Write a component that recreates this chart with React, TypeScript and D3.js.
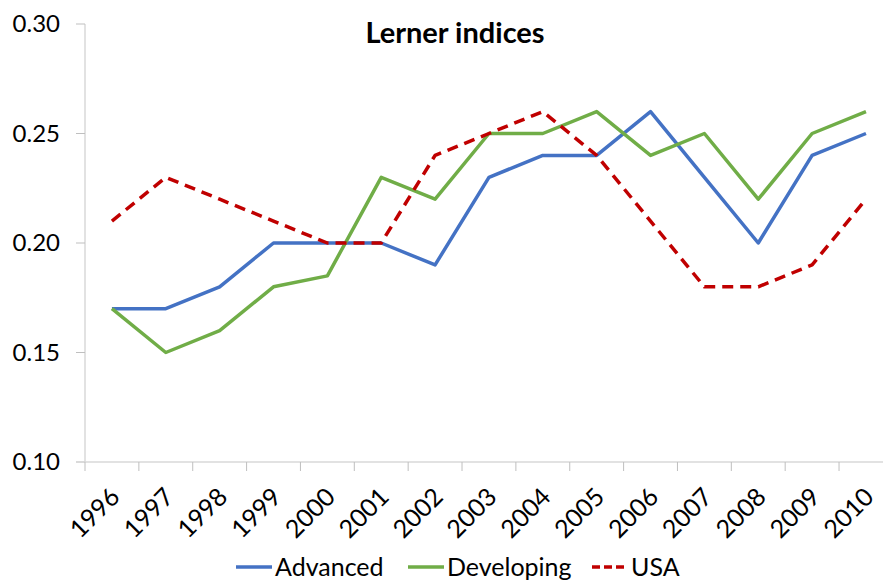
import React, { useEffect, useRef } from "react";
import * as d3 from "d3";

const years = ["1996","1997","1998","1999","2000","2001","2002","2003","2004","2005","2006","2007","2008","2009","2010"];
const advanced = [0.17,0.17,0.18,0.20,0.20,0.20,0.19,0.23,0.24,0.24,0.26,0.23,0.20,0.24,0.25];
const developing = [0.17,0.15,0.16,0.18,0.185,0.23,0.22,0.25,0.25,0.26,0.24,0.25,0.22,0.25,0.26];
const usa = [0.21,0.23,0.22,0.21,0.20,0.20,0.24,0.25,0.26,0.24,0.21,0.18,0.18,0.19,0.22];
const yTicks = [0.10,0.15,0.20,0.25,0.30];
const seriesNames = ["Advanced","Developing","USA"];

const W = 883, H = 582;
const FONT = "Lato, 'Open Sans', sans-serif";

export default function App() {
  const ref = useRef<SVGSVGElement>(null);
  useEffect(() => {
    const svg = d3.select(ref.current);
    svg.selectAll("*").remove();
    const left = 85, top = 24, bottom = 462;
    const band = 53.86;
    const x = d3.scaleBand<string>().domain(years).range([left, left + band * years.length]);
    const y = d3.scaleLinear().domain([0.10, 0.30]).range([bottom, top]);
    const cx = (d: string) => (x(d) as number) + x.bandwidth() / 2;

    // y axis line
    svg.append("line").attr("x1", left).attr("x2", left).attr("y1", top).attr("y2", bottom)
      .attr("stroke", "#d9d9d9").attr("stroke-width", 1.5);
    yTicks.forEach(t => {
      svg.append("line").attr("x1", left - 9).attr("x2", left).attr("y1", y(t)).attr("y2", y(t))
        .attr("stroke", "#bfbfbf").attr("stroke-width", 1);
      svg.append("text").attr("x", 60).attr("y", y(t)).attr("dy", "0.35em")
        .attr("text-anchor", "end").attr("font-family", FONT).attr("font-size", 24)
        .attr("fill", "#000").text(t.toFixed(2));
    });
    // x axis
    svg.append("line").attr("x1", left - 9).attr("x2", W + 20).attr("y1", bottom).attr("y2", bottom)
      .attr("stroke", "#d9d9d9").attr("stroke-width", 1.5);
    years.forEach((yr) => {
      const bx = (x(yr) as number);
      svg.append("line").attr("x1", bx).attr("x2", bx).attr("y1", bottom).attr("y2", bottom + 9)
        .attr("stroke", "#bfbfbf").attr("stroke-width", 1);
      const tx = cx(yr) - 3, ty = bottom + 24;
      svg.append("text").attr("transform", `translate(${tx},${ty}) rotate(-45)`)
        .attr("text-anchor", "end").attr("dy", "0.7em")
        .attr("font-family", FONT).attr("font-size", 25).attr("fill", "#000").text(yr);
    });

    const line = d3.line<number>().x((_, i) => cx(years[i])).y(d => y(d));
    const defs = [
      { data: advanced, color: "#4472C4", dash: null },
      { data: developing, color: "#70AD47", dash: null },
      { data: usa, color: "#C00000", dash: "11,7" },
    ];
    defs.forEach(s => {
      svg.append("path").datum(s.data).attr("d", line).attr("fill", "none")
        .attr("stroke", s.color).attr("stroke-width", 3.5)
        .attr("stroke-linejoin", "round")
        .attr("stroke-dasharray", s.dash);
    });

    svg.append("text").attr("x", 455).attr("y", 33).attr("dy", "0.35em").attr("text-anchor", "middle")
      .attr("font-family", FONT).attr("font-weight", "bold").attr("font-size", 29).text("Lerner indices");

    const legX = [236, 408, 592];
    seriesNames.forEach((n, i) => {
      const ly = 567;
      svg.append("line").attr("x1", legX[i]).attr("x2", legX[i] + 36).attr("y1", ly).attr("y2", ly)
        .attr("stroke", defs[i].color).attr("stroke-width", 3.5)
        .attr("stroke-dasharray", defs[i].dash ? "8,4" : null);
      svg.append("text").attr("x", legX[i] + 39).attr("y", ly).attr("dy", "0.35em")
        .attr("font-family", FONT).attr("font-size", 25).text(n);
    });
  }, []);
  return (
    <svg ref={ref} width={W} height={H} style={{ position: "absolute", left: 0, top: 0, background: "#fff" }} />
  );
}
